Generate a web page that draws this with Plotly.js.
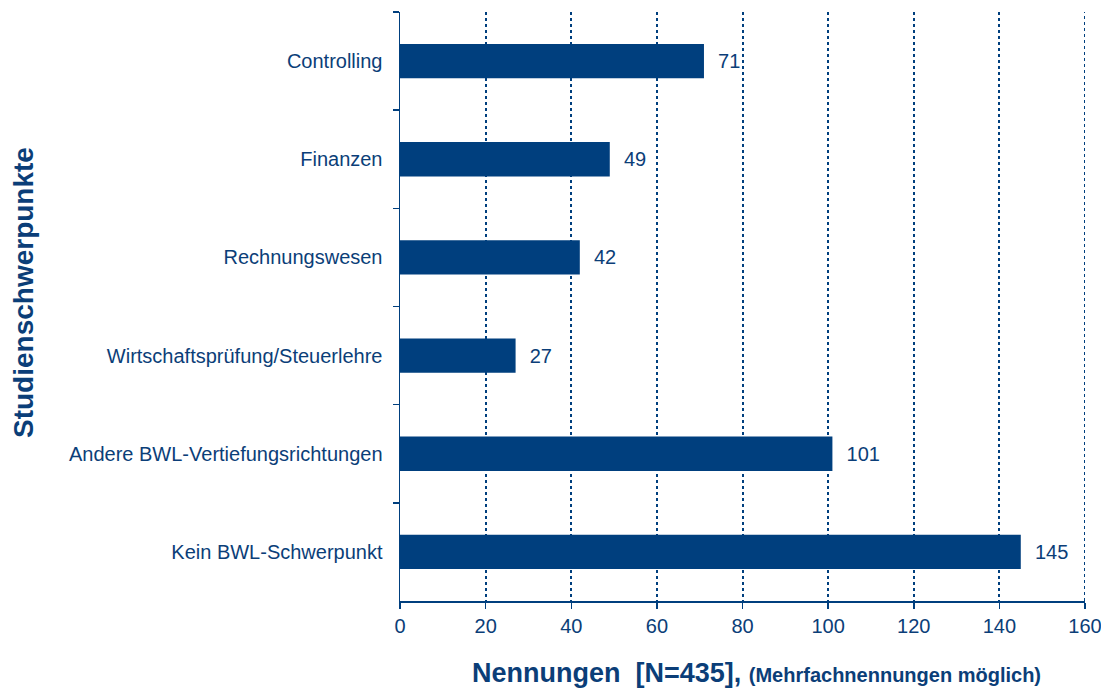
<!DOCTYPE html>
<html>
<head>
<meta charset="utf-8">
<script src="https://cdn.plot.ly/plotly-3.0.1.min.js"></script>
<style>html,body{margin:0;padding:0;background:#fff;}#chart{width:1101px;height:688px;}</style>
</head>
<body>
<div id="chart"></div>
<script>
const categories = ["Controlling", "Finanzen", "Rechnungswesen", "Wirtschaftsprüfung/Steuerlehre", "Andere BWL-Vertiefungsrichtungen", "Kein BWL-Schwerpunkt"];
const values = [71, 49, 42, 27, 101, 145];
const xTicks = [0, 20, 40, 60, 80, 100, 120, 140, 160];
const xTitle = 'Nennungen  [N=435],';
const xTitleNote = '(Mehrfachnennungen möglich)';
const yTitle = 'Studienschwerpunkte';

const blue = '#003f7e';
const textBlue = '#0b3e78';
const font = 'Liberation Sans, Arial, sans-serif';

const L = 400, R = 16, T = 12, B = 87, W = 1101, H = 688;
const pw = W - L - R, ph = H - T - B;

const trace = {
  type: 'bar',
  orientation: 'h',
  y: categories,
  x: values,
  texttemplate: '\u00a0\u00a0%{x}',
  textposition: 'outside',
  cliponaxis: false,
  textfont: {family: font, size: 20, color: textBlue},
  marker: {color: blue, line: {width: 0}},
  width: 0.35,
  hoverinfo: 'x+y'
};

const xMax = xTicks[xTicks.length - 1];

const layout = {
  width: W, height: H,
  margin: {l: L, r: R, t: T, b: B},
  paper_bgcolor: '#fff', plot_bgcolor: '#fff',
  font: {family: font, color: textBlue},
  showlegend: false,
  xaxis: {
    range: [0, xMax],
    tickvals: xTicks,
    ticktext: xTicks.map(String),
    ticklabeloverflow: 'allow',
    showgrid: true, gridcolor: blue, griddash: 'dot', gridwidth: 2,
    showline: true, linecolor: blue, linewidth: 1.5,
    ticks: 'outside', ticklen: 6, tickcolor: blue, tickwidth: 1.5,
    tickfont: {family: font, size: 20, color: textBlue},
    zeroline: false,
    fixedrange: true
  },
  yaxis: {
    autorange: 'reversed',
    type: 'category',
    showgrid: false,
    showline: true, linecolor: blue, linewidth: 1.5,
    ticks: 'outside', tickson: 'boundaries', ticklen: 6, tickcolor: blue, tickwidth: 1.5,
    ticklabelstandoff: 12,
    tickfont: {family: font, size: 20, color: textBlue},
    zeroline: false,
    fixedrange: true
  },
  shapes: [{
    type: 'line', xref: 'x', yref: 'paper',
    x0: xMax, x1: xMax, y0: 0, y1: 1,
    line: {color: blue, width: 2, dash: 'dot'}
  }],
  annotations: [
    {
      xref: 'paper', yref: 'paper',
      x: (756 - L) / pw, y: (T + ph - 673) / ph,
      xanchor: 'center', yanchor: 'middle',
      showarrow: false,
      text: '<b>' + xTitle + ' <span style="font-size:20px">' + xTitleNote + '</span></b>',
      font: {family: font, size: 27, color: textBlue}
    },
    {
      xref: 'paper', yref: 'paper',
      x: (24 - L) / pw, y: (T + ph - 293) / ph,
      xanchor: 'center', yanchor: 'middle',
      textangle: -90,
      showarrow: false,
      text: '<b>' + yTitle + '</b>',
      font: {family: font, size: 28, color: textBlue}
    }
  ]
};

Plotly.newPlot('chart', [trace], layout, {displayModeBar: false, staticPlot: true});
</script>
</body>
</html>
